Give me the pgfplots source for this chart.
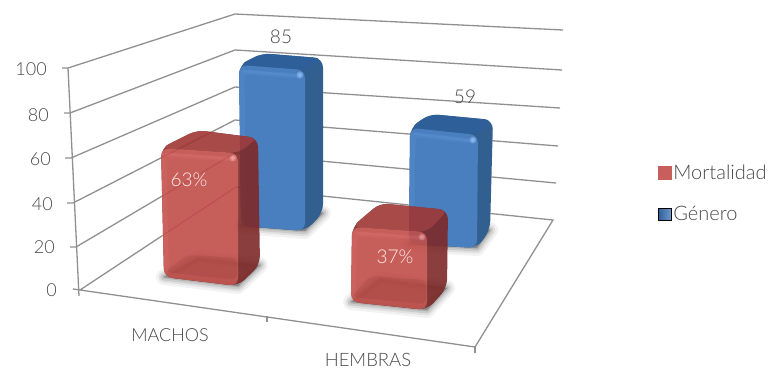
\documentclass[border=0pt]{standalone}
\usepackage{fontspec}
\usepackage{pgfplots}
\pgfplotsset{compat=1.18}
\setmainfont{Lato Light}

\definecolor{gridc}{HTML}{909090}
\definecolor{txt}{HTML}{484848}
\definecolor{redF}{HTML}{C04C48}
\definecolor{redR}{HTML}{D4605C}
\definecolor{redT}{HTML}{9F3634}
\definecolor{redS}{HTML}{7D2A29}
\definecolor{redB}{HTML}{B44541}
\definecolor{redH}{HTML}{F09A96}
\definecolor{redL}{HTML}{C95F5C}
\definecolor{bluF}{HTML}{4A7FBF}
\definecolor{bluR}{HTML}{5C93D6}
\definecolor{bluT}{HTML}{2F5F99}
\definecolor{bluS}{HTML}{315F90}
\definecolor{bluH}{HTML}{8ABBF2}

% every axis shares one frame, measured in the units of the final drawing
\pgfplotsset{frame/.style={
  scale only axis, width=768pt, height=370pt,
  xmin=0, xmax=768, ymin=0, ymax=370, y dir=reverse,
  hide axis, clip=false}}

% corner name, floor x, floor y, top x, drawing units per unit of value
\newcommand{\corner}[5]{%
  \expandafter\def\csname #1bx\endcsname{#2}%
  \expandafter\def\csname #1by\endcsname{#3}%
  \expandafter\def\csname #1tx\endcsname{#4}%
  \pgfmathsetmacro\tmpy{#3-\barvalue*#5}%
  \expandafter\let\csname #1ty\endcsname\tmpy}

% soft contact shadow on the floor
\newcommand{\floorshadow}{%
  \foreach \w/\o in {16/0.07,11/0.10,7/0.14,3/0.20}{%
    \edef\tmpcmd{\noexpand\addplot[draw=black!70, fill=black!70, line width=\w pt, opacity=\o, line join=round, forget plot]
      coordinates {(\FLbx,\FLby)(\FRbx,\FRby)(\BRbx,\BRby)(\BLbx,\BLby)} -- cycle;}\tmpcmd}}

% faces of one bar, with a lighter bevel along the top and left of the front;
% the argument is the shared colour prefix
\newcommand{\drawbar}[1]{%
  \addplot[fill=#1S, draw=none, rounded corners=9pt, forget plot] coordinates
    {(\FLbx,\FLby)(\FRbx,\FRby)(\BRbx,\BRby)(\BRtx,\BRty)(\BLtx,\BLty)(\FLtx,\FLty)} -- cycle;
  \addplot[fill=#1T, draw=none, rounded corners=8pt, forget plot] coordinates
    {(\FLtx,\FLty)(\FRtx,\FRty)(\BRtx,\BRty)(\BLtx,\BLty)} -- cycle;
  \addplot[fill=#1F, draw=none, rounded corners=8pt, forget plot] coordinates
    {(\FLbx,\FLby)(\FRbx,\FRby)(\FRtx,\FRty)(\FLtx,\FLty)} -- cycle;
  \addplot[#1R, line width=5pt, opacity=.25, line cap=round, line join=round, forget plot] coordinates
    {(\FLbx+2.5,\FLby-8)(\FLtx+3,\FLty+7)(\FRtx-5,\FRty+6)};
  \addplot[#1R, line width=2.5pt, opacity=.45, line cap=round, line join=round, forget plot] coordinates
    {(\FLtx+5,\FLty+6)(\FRtx-5,\FRty+6)};
  \addplot[only marks, mark=*, mark size=3.2pt, #1H, opacity=.45, forget plot] coordinates {(\FRtx-5,\FRty+5)};
  \addplot[only marks, mark=*, mark size=1.8pt, #1H, opacity=.8, forget plot] coordinates {(\FRtx-5,\FRty+5)};
}

\begin{document}
\begin{tikzpicture}
\path[use as bounding box] (0,0) rectangle (768pt,370pt);

% walls, floor and bars at the back
\begin{axis}[frame]
  \addplot[gridc, line width=1.3pt, forget plot] coordinates {(62,68)(68,68)(235,14)(563,30)};
  \addplot[gridc, line width=1.3pt, forget plot] coordinates {(64,113)(70,113)(235,50)(562,70)};
  \addplot[gridc, line width=1.3pt, forget plot] coordinates {(65,158)(71,158)(235,87)(560,108)};
  \addplot[gridc, line width=1.3pt, forget plot] coordinates {(67,203)(73,203)(235,120)(558,146)};
  \addplot[gridc, line width=1.3pt, forget plot] coordinates {(70,247)(76,247)(235,153)(556,183)};
  \addplot[gridc, line width=1.3pt, forget plot] coordinates {(73,289)(80,290)(236,187)(553,220)(475,347)(80,290)};
  \addplot[gridc, line width=1.3pt, forget plot] coordinates {(68,68)(79,296)};
  \addplot[gridc, line width=1.3pt, forget plot] coordinates {(267,316)(267,322)};
  \addplot[gridc, line width=1.3pt, forget plot] coordinates {(475,347)(475,353)};

  % Genero, MACHOS
  \def\barvalue{85}
  \corner{FL}{241}{226}{239}{1.894}
  \corner{FR}{305}{231}{305}{1.894}
  \corner{BR}{323}{213}{323}{1.82}
  \corner{BL}{264}{208}{262}{1.82}
  \floorshadow
  \drawbar{blu}

  % Genero, HEMBRAS
  \def\barvalue{59}
  \corner{FL}{409}{244}{410}{1.97}
  \corner{FR}{477}{248}{478}{1.915}
  \corner{BR}{490}{230}{493}{1.864}
  \corner{BL}{431}{224}{430}{1.864}
  \floorshadow
  \drawbar{blu}

  % contact shadows of the red bars fall on the floor
  \def\barvalue{63}
  \corner{FL}{164}{277}{161}{2.048}
  \corner{FR}{238}{286}{238}{2.11}
  \corner{BR}{260}{265}{258}{2.016}
  \corner{BL}{198}{258}{197}{2.03}
  \floorshadow
  \def\barvalue{37}
  \corner{FL}{351}{302}{352}{2.03}
  \corner{FR}{427}{310}{427}{2.108}
  \corner{BR}{447}{288}{448}{2.108}
  \corner{BL}{380}{279}{380}{2.05}
  \floorshadow
\end{axis}

% Mortalidad bars, slightly see-through as one group
\begin{scope}[transparency group, opacity=.9]
\begin{axis}[frame]
  \def\barvalue{63}
  \corner{FL}{164}{277}{161}{2.048}
  \corner{FR}{238}{286}{238}{2.11}
  \corner{BR}{260}{265}{258}{2.016}
  \corner{BL}{198}{258}{197}{2.03}
  \drawbar{red}
  \addplot[fill=redB, draw=none, rounded corners=5pt, forget plot] coordinates
    {(\FLbx+1,\FLby-5)(\BLbx-10,\BLby-3)(\FRbx-1,\FRby-28)(\FRbx-1,\FRby-6)} -- cycle;

  \def\barvalue{37}
  \corner{FL}{351}{302}{352}{2.03}
  \corner{FR}{427}{310}{427}{2.108}
  \corner{BR}{447}{288}{448}{2.108}
  \corner{BL}{380}{279}{380}{2.05}
  \drawbar{red}
  \addplot[fill=redB, draw=none, rounded corners=5pt, forget plot] coordinates
    {(\FLbx+1,\FLby-5)(\BLbx-10,\BLby-3)(\FRbx-1,\FRby-30)(\FRbx-1,\FRby-6)} -- cycle;
\end{axis}
\end{scope}

% labels and legend
\begin{axis}[frame,
  legend style={at={(axis cs:658,163)}, anchor=north west, draw=none, fill=none,
    font=\fontsize{20}{22}\selectfont, text=txt, row sep=21pt,
    inner sep=0pt, outer sep=0pt},
  legend cell align=left]
  \addlegendimage{legend image code/.code={\fill[redL] (4pt,-6.5pt) rectangle (17pt,6.5pt);}}
  \addlegendentry{Mortalidad}
  \addlegendimage{legend image code/.code={\shade[left color=bluT, right color=bluF!80!white] (4pt,-6pt) rectangle (17pt,5.5pt);}}
  \addlegendentry{Género}

  \begin{scope}[every node/.style={text=txt, font=\fontsize{18}{20}\selectfont, inner sep=0pt}]
    \node[anchor=east] at (axis cs:47,69) {100};
    \node[anchor=east] at (axis cs:49,115) {80};
    \node[anchor=east] at (axis cs:51,159) {60};
    \node[anchor=east] at (axis cs:53,204) {40};
    \node[anchor=east] at (axis cs:55,247) {20};
    \node[anchor=east] at (axis cs:57,290) {0};
    \node[font=\fontsize{18}{20}\selectfont] at (axis cs:170,335) {MACHOS};
    \node[font=\fontsize{18.5}{20}\selectfont] at (axis cs:368,360) {HEMBRAS};
    \node[font=\fontsize{19}{20}\selectfont] at (axis cs:281,37) {85};
    \node[font=\fontsize{19}{20}\selectfont] at (axis cs:465,97) {59};
    \node[text=white!92!red, font=\fontsize{19}{20}\selectfont] at (axis cs:189,180) {63\%};
    \node[text=white!92!red, font=\fontsize{19}{20}\selectfont] at (axis cs:395,257) {37\%};
  \end{scope}
\end{axis}
\end{tikzpicture}
\end{document}
